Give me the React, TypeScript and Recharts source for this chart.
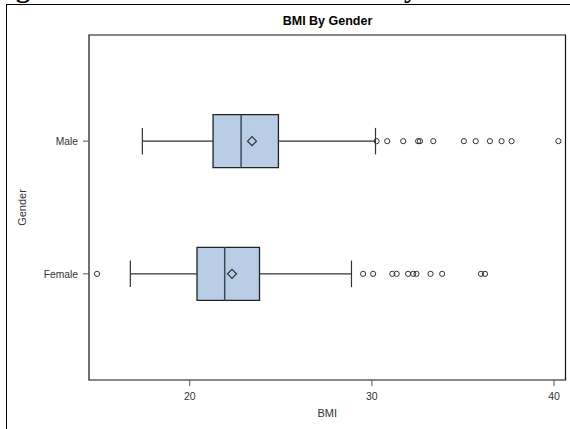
import React from 'react';
import { ScatterChart, Scatter, XAxis, YAxis, ReferenceArea, ReferenceLine } from 'recharts';

const categories = ['Male', 'Female'];
const q1 = [21.28, 20.4];
const median = [22.82, 21.92];
const q3 = [24.87, 23.83];
const mean = [23.42, 22.32];
const whiskerLow = [17.4, 16.74];
const whiskerHigh = [30.2, 28.88];
const maleOutliers = [30.26, 30.84, 31.72, 32.54, 32.64, 33.37, 35.05, 35.7, 36.48, 37.12, 37.67, 40.24];
const femaleOutliers = [14.91, 29.52, 30.07, 31.12, 31.36, 31.99, 32.27, 32.45, 33.22, 33.86, 35.99, 36.21];
const outliers = [maleOutliers, femaleOutliers];
const xTicks = [20, 30, 40];
const xDomain: [number, number] = [14.47, 40.63];
const yDomain: [number, number] = [-0.8, 1.8];
const boxHalf = 0.2;
const capHalf = 0.1;

const FONT = '"Liberation Sans", Arial, sans-serif';
const BOX_FILL = '#b8cde6';

const outlierData = categories.flatMap((c, i) => outliers[i].map((v) => ({ x: v, y: i })));
const meanData = categories.map((c, i) => ({ x: mean[i], y: i }));

const OutlierShape = (p: any) => (
  <circle cx={p.cx} cy={p.cy} r={2.6} fill="none" stroke="#333" strokeWidth={1} />
);
const MeanShape = (p: any) => {
  const s = 4.5;
  return (
    <polygon
      points={`${p.cx},${p.cy - s} ${p.cx + s},${p.cy} ${p.cx},${p.cy + s} ${p.cx - s},${p.cy}`}
      fill="none"
      stroke="#333"
      strokeWidth={1.2}
    />
  );
};

export default function App() {
  return (
    <div style={{ position: 'absolute', left: 0, top: 0, width: 570, height: 429, overflow: 'hidden', background: '#fff' }}>
      <div style={{ position: 'absolute', left: 16, top: -27, fontFamily: '"Liberation Serif", "Times New Roman", serif', fontWeight: 'bold', fontSize: 28, whiteSpace: 'nowrap', lineHeight: '30px' }}>
        g
      </div>
      <div style={{ position: 'absolute', left: 404, top: -27, fontFamily: '"Liberation Serif", "Times New Roman", serif', fontWeight: 'bold', fontSize: 28, whiteSpace: 'nowrap', lineHeight: '30px' }}>
        y
      </div>
      <div style={{ position: 'absolute', left: 6, top: 4, width: 640, height: 500, border: '1px solid #000' }} />
      <div style={{ position: 'absolute', left: 89, width: 477, top: 14, textAlign: 'center', fontFamily: FONT, fontWeight: 'bold', fontSize: 12.5, color: '#000' }}>
        BMI By Gender
      </div>
      <div style={{ position: 'absolute', left: 0, top: 0 }}>
        <ScatterChart width={570} height={429} margin={{ top: 35, right: 4.5, bottom: 0, left: 0 }}>
          <XAxis
            type="number"
            dataKey="x"
            domain={xDomain}
            ticks={xTicks}
            allowDataOverflow
            axisLine={false}
            tickSize={6}
            tickMargin={7}
            height={49}
            tickLine={{ stroke: '#555' }}
            tick={{ fontFamily: FONT, fontSize: 10.5, fill: '#333' }}
            label={{ value: 'BMI', position: 'insideTop', offset: 29, style: { fontFamily: FONT, fontSize: 11, fill: '#333' } }}
          />
          <YAxis
            type="number"
            dataKey="y"
            domain={yDomain}
            reversed
            ticks={categories.map((c, i) => i)}
            tickFormatter={(v: number) => categories[v] ?? ''}
            allowDataOverflow
            axisLine={false}
            tickSize={6}
            tickMargin={5}
            width={89}
            tickLine={{ stroke: '#555' }}
            tick={{ fontFamily: FONT, fontSize: 10.3, fill: '#333' }}
            label={{
              value: 'Gender',
              content: (props: any) => {
                const vb = props.viewBox;
                const x = vb.x + 26;
                const y = vb.y + vb.height / 2;
                return (
                  <text x={x} y={y} transform={`rotate(-90, ${x}, ${y})`} textAnchor="middle" style={{ fontFamily: FONT, fontSize: 11, fill: '#333' }}>
                    Gender
                  </text>
                );
              },
            }}
          />
          {categories.map((c, i) => (
            <ReferenceLine key={`wl${i}`} segment={[{ x: whiskerLow[i], y: i }, { x: q1[i], y: i }]} stroke="#333" strokeWidth={1.2} ifOverflow="visible" />
          ))}
          {categories.map((c, i) => (
            <ReferenceLine key={`wh${i}`} segment={[{ x: q3[i], y: i }, { x: whiskerHigh[i], y: i }]} stroke="#333" strokeWidth={1.2} ifOverflow="visible" />
          ))}
          {categories.map((c, i) => (
            <ReferenceLine key={`cl${i}`} segment={[{ x: whiskerLow[i], y: i - capHalf }, { x: whiskerLow[i], y: i + capHalf }]} stroke="#333" strokeWidth={1.2} ifOverflow="visible" />
          ))}
          {categories.map((c, i) => (
            <ReferenceLine key={`ch${i}`} segment={[{ x: whiskerHigh[i], y: i - capHalf }, { x: whiskerHigh[i], y: i + capHalf }]} stroke="#333" strokeWidth={1.2} ifOverflow="visible" />
          ))}
          {categories.map((c, i) => (
            <ReferenceArea key={`b${i}`} x1={q1[i]} x2={q3[i]} y1={i - boxHalf} y2={i + boxHalf} fill={BOX_FILL} fillOpacity={1} stroke="#222" strokeWidth={1.3} ifOverflow="visible" />
          ))}
          {categories.map((c, i) => (
            <ReferenceLine key={`m${i}`} segment={[{ x: median[i], y: i - boxHalf }, { x: median[i], y: i + boxHalf }]} stroke="#3d4a5a" strokeWidth={1.5} ifOverflow="visible" />
          ))}
          <ReferenceArea x1={xDomain[0]} x2={xDomain[1]} y1={yDomain[0]} y2={yDomain[1]} fill="none" stroke="#111" strokeWidth={1.2} ifOverflow="visible" />
          <Scatter data={meanData} shape={MeanShape} isAnimationActive={false} />
          <Scatter data={outlierData} shape={OutlierShape} isAnimationActive={false} />
        </ScatterChart>
      </div>
    </div>
  );
}
